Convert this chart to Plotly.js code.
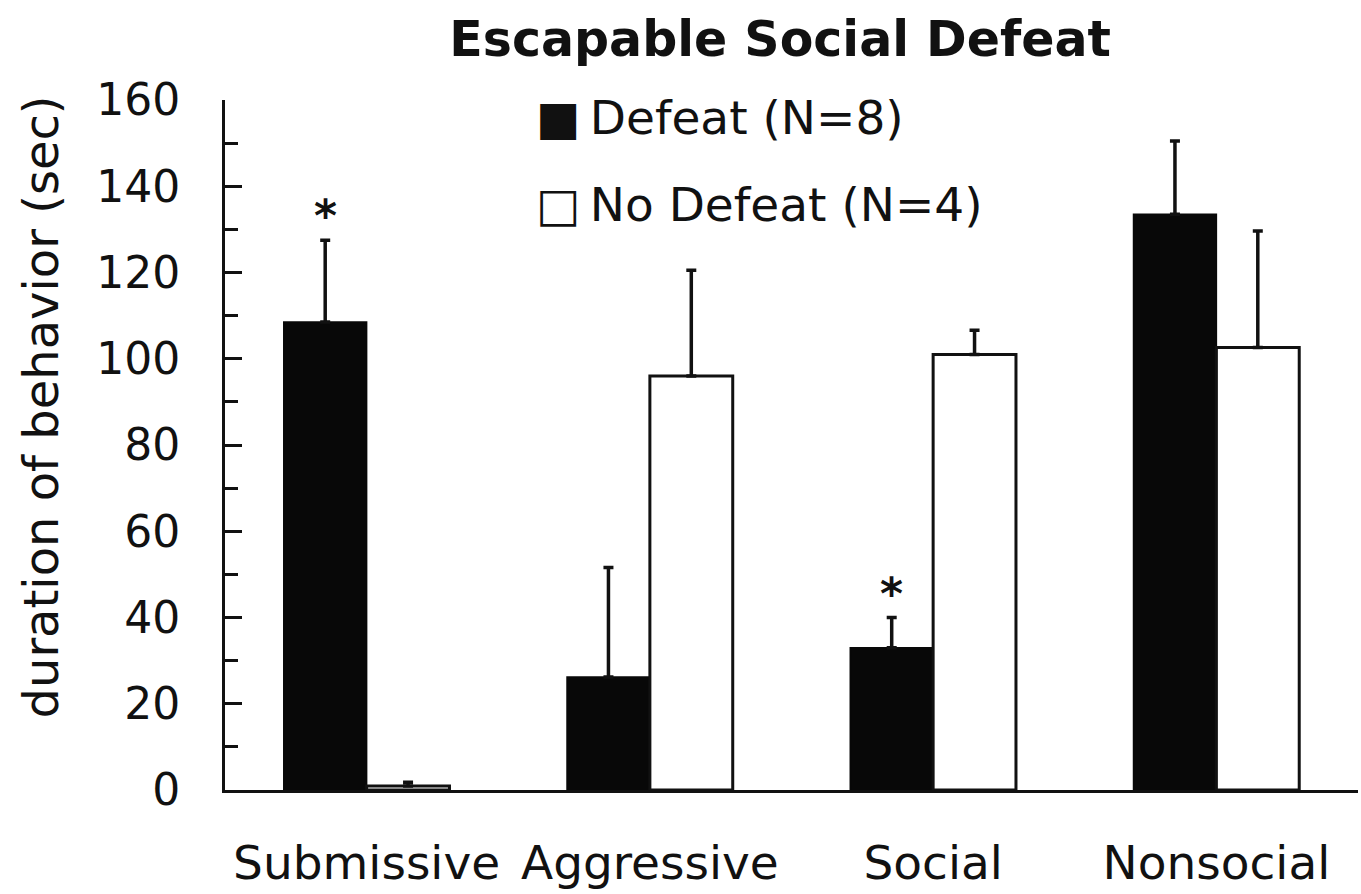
<!DOCTYPE html>
<html>
<head>
<meta charset="utf-8">
<script src="https://cdn.plot.ly/plotly-3.0.1.min.js"></script>
<style>html,body{margin:0;padding:0;background:#fff;}#chart{width:1361px;height:894px;}</style>
</head>
<body>
<div id="chart"></div>
<script>
const categories = ['Submissive', 'Aggressive', 'Social', 'Nonsocial'];
const defeatValues = [108.5, 26.2, 33.0, 133.5];
const defeatErrors = [19.0, 25.4, 7.0, 17.0];
const noDefeatValues = [0.9, 96.0, 101.0, 102.6];
const noDefeatErrors = [0.9, 24.5, 5.6, 27.0];
const seriesNames = ['Defeat (N=8)', 'No Defeat (N=4)'];
const significant = ['Submissive', 'Social'];
const yTickValues = [0, 20, 40, 60, 80, 100, 120, 140, 160];

const FONT = 'DejaVu Sans, Arial, sans-serif';

const traces = [
  {
    type: 'bar', name: seriesNames[0], x: categories, y: defeatValues,
    marker: {color: '#080808', line: {color: '#080808', width: 1.5}},
    error_y: {type: 'data', array: defeatErrors, arrayminus: defeatErrors.map(() => 0), symmetric: false,
              color: '#111', thickness: 3.5, width: 5},
    showlegend: false, hoverinfo: 'skip'
  },
  {
    type: 'bar', name: seriesNames[1], x: categories, y: noDefeatValues,
    marker: {color: '#ffffff', line: {color: '#111', width: 3}},
    error_y: {type: 'data', array: noDefeatErrors, arrayminus: noDefeatErrors.map(() => 0), symmetric: false,
              color: '#111', thickness: 3.5, width: 5},
    showlegend: false, hoverinfo: 'skip'
  }
];

const annotations = [];
significant.forEach(cat => {
  const i = categories.indexOf(cat);
  annotations.push({
    x: cat, y: defeatValues[i] + defeatErrors[i], xref: 'x', yref: 'y',
    xshift: -41.5, yshift: -3, yanchor: 'bottom', showarrow: false,
    text: '<b>*</b>', font: {family: FONT, size: 44, color: '#111'}
  });
});
annotations.push({
  xref: 'paper', yref: 'paper', x: 0.273, y: 0.975, xanchor: 'left', yanchor: 'middle',
  showarrow: false, text: '\u25A0\u2009' + seriesNames[0], font: {family: FONT, size: 47, color: '#111'}
});
annotations.push({
  xref: 'paper', yref: 'paper', x: 0.273, y: 0.849, xanchor: 'left', yanchor: 'middle',
  showarrow: false, text: '\u25A1\u2009' + seriesNames[1], font: {family: FONT, size: 47, color: '#111'}
});
annotations.push({
  xref: 'paper', yref: 'paper', x: -0.162, y: 0.555, xanchor: 'center', yanchor: 'middle',
  textangle: -90, showarrow: false, text: 'duration of behavior (sec)',
  font: {family: FONT, size: 48, color: '#111'}
});

const layout = {
  width: 1361, height: 894,
  margin: {l: 225, r: 3, t: 100, b: 104},
  paper_bgcolor: '#fff', plot_bgcolor: '#fff',
  font: {family: FONT, color: '#111'},
  title: {text: '<b>Escapable Social Defeat</b>', font: {family: FONT, size: 49, color: '#111'},
          xref: 'paper', x: 0.49, xanchor: 'center', yref: 'container', y: 0.957, yanchor: 'middle'},
  barmode: 'group', bargap: 0.415, bargroupgap: 0,
  showlegend: false,
  xaxis: {
    type: 'category', showline: true, linecolor: '#111', linewidth: 3,
    ticks: '', showgrid: false, zeroline: false,
    tickfont: {family: FONT, size: 47, color: '#111'},
    ticklabelstandoff: 30, automargin: false
  },
  yaxis: {
    range: [0, 160], tickvals: yTickValues, ticktext: yTickValues.map(String),
    showline: true, linecolor: '#111', linewidth: 3,
    ticks: 'inside', ticklen: 17, tickwidth: 3, tickcolor: '#111',
    minor: {dtick: 10, ticks: 'inside', ticklen: 13, tickwidth: 3, tickcolor: '#111', showgrid: false},
    showgrid: false, zeroline: false,
    tickfont: {family: FONT, size: 44, color: '#111'},
    ticklabelstandoff: 33, automargin: false
  },
  annotations: annotations
};

Plotly.newPlot('chart', traces, layout, {staticPlot: true, displayModeBar: false});
</script>
</body>
</html>
